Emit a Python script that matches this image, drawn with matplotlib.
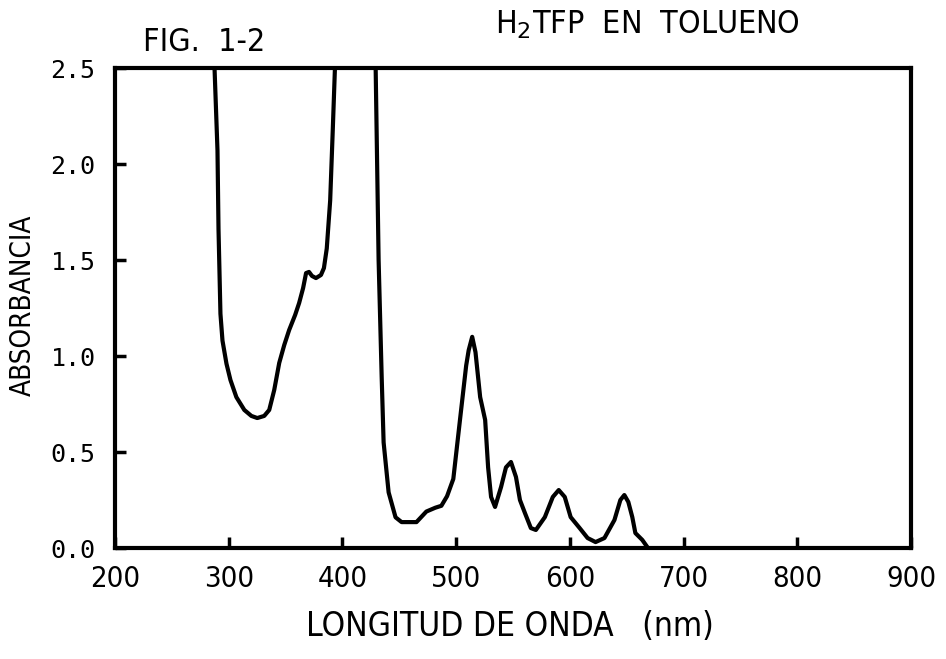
import matplotlib
matplotlib.use("Agg")
import matplotlib.pyplot as plt
from matplotlib.font_manager import FontProperties

# Soret-side branch (UV region), wavelength nm / absorbance
wl_uv = [287.5, 290.1, 291.0, 292.7, 294.5, 298.0, 301.5, 306.7, 313.7, 319.9,
         325.1, 331.2, 335.6, 340.0, 344.4, 348.8, 353.1, 358.4, 361.9, 365.4,
         368.0, 370.6, 373.2, 376.7, 381.1, 383.7, 386.2, 389.2, 391.5, 393.4]
abs_uv = [2.50, 2.07, 1.66, 1.22, 1.08, 0.96, 0.875, 0.786, 0.719, 0.688,
          0.677, 0.688, 0.719, 0.823, 0.964, 1.057, 1.135, 1.214, 1.276, 1.354,
          1.432, 1.438, 1.417, 1.406, 1.422, 1.458, 1.56, 1.81, 2.18, 2.50]

# Visible branch (Q bands)
wl_vis = [429.2, 431.8, 434.5, 436.2, 440.6, 446.7, 452.0, 465.1, 473.8, 481.7,
          487.0, 492.0, 497.5, 503.6, 508.8, 511.0, 514.1, 517.0, 521.1, 525.5,
          528.1, 530.7, 534.2, 539.5, 543.8, 548.2, 552.6, 556.1, 560.5, 565.7,
          570.1, 578.0, 585.0, 590.2, 595.5, 600.7, 608.6, 615.6, 622.6, 630.4,
          639.2, 644.4, 647.9, 651.4, 654.9, 657.6, 663.7, 668.1]
abs_vis = [2.50, 1.50, 0.89, 0.55, 0.29, 0.16, 0.135, 0.135, 0.19, 0.21,
           0.22, 0.27, 0.36, 0.68, 0.95, 1.03, 1.10, 1.02, 0.786, 0.667,
           0.42, 0.266, 0.214, 0.318, 0.42, 0.448, 0.37, 0.25, 0.182, 0.104,
           0.094, 0.161, 0.266, 0.302, 0.266, 0.161, 0.104, 0.052, 0.031, 0.052,
           0.146, 0.25, 0.276, 0.24, 0.161, 0.078, 0.042, 0.005]

x_ticks = [200, 300, 400, 500, 600, 700, 800, 900]
y_ticks = [0.0, 0.5, 1.0, 1.5, 2.0, 2.5]

def cond(size):
    return FontProperties(family='DejaVu Sans', stretch='condensed', size=size)

mono = FontProperties(family='DejaVu Sans Mono', size=18)

fig = plt.figure(figsize=(9.46, 6.59), dpi=100)
ax = fig.add_axes([0.1216, 0.1684, 0.8414, 0.7284])

ax.plot(wl_uv, abs_uv, color='black', lw=3.0, solid_joinstyle='round',
        solid_capstyle='round')
ax.plot(wl_vis, abs_vis, color='black', lw=3.0, solid_joinstyle='round',
        solid_capstyle='round')

ax.set_xlim(200, 900)
ax.set_ylim(0, 2.5)
ax.set_xticks(x_ticks)
ax.set_yticks(y_ticks)
ax.set_xticklabels([str(v) for v in x_ticks], fontproperties=cond(21))
ax.set_yticklabels([f"{v:.1f}" for v in y_ticks], fontproperties=mono)
ax.tick_params(axis='both', direction='in', length=8, width=2.5, color='black')
ax.tick_params(axis='x', pad=12)
ax.tick_params(axis='y', pad=14)
for s in ax.spines.values():
    s.set_linewidth(3.0)

fig.text(0.539, 0.05, "LONGITUD DE ONDA   (nm)", fontproperties=cond(24),
         ha='center', va='center')
fig.text(0.024, 0.537, "ABSORBANCIA", fontproperties=cond(20),
         ha='center', va='center', rotation=90)
fig.text(0.216, 0.935, "FIG.  1-2", fontproperties=cond(23),
         ha='center', va='center')
fig.text(0.684, 0.962, "H$_2$TFP  EN  TOLUENO", fontproperties=cond(23),
         ha='center', va='center')

fig.savefig("out.png", dpi=100, facecolor='white')
